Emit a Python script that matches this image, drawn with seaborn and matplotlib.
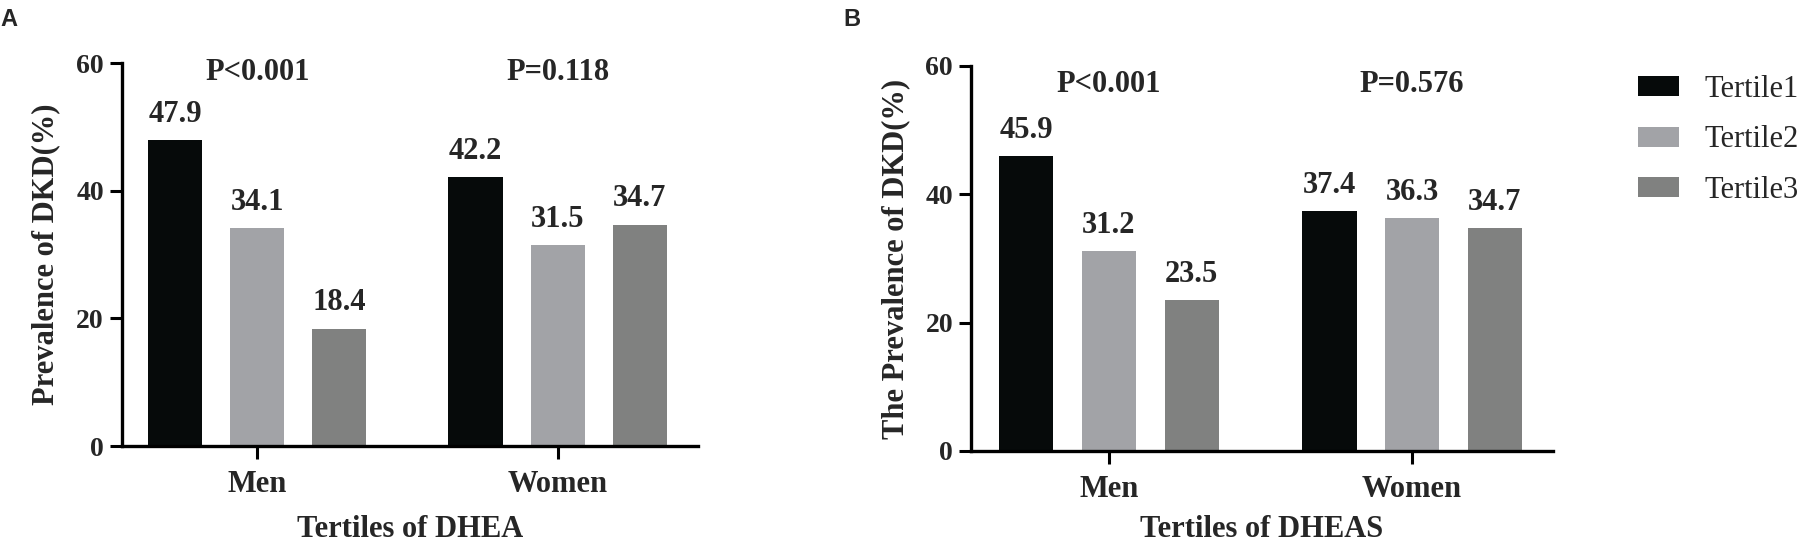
import numpy as np
import pandas as pd
import matplotlib
matplotlib.use("Agg")
import matplotlib.pyplot as plt
import seaborn as sns

# ---- data ----
sexes = ["Men", "Women"]
tertiles = ["Tertile1", "Tertile2", "Tertile3"]
dhea_men = [47.9, 34.1, 18.4]
dhea_women = [42.2, 31.5, 34.7]
dheas_men = [45.9, 31.2, 23.5]
dheas_women = [37.4, 36.3, 34.7]
p_dhea = ["P<0.001", "P=0.118"]
p_dheas = ["P<0.001", "P=0.576"]
yticks = [0, 20, 40, 60]
colors = ["#060a0a", "#a2a3a7", "#808180"]

sns.set_style("ticks")
plt.rcParams["font.family"] = ["Liberation Serif", "DejaVu Serif"]
plt.rcParams["font.weight"] = "bold"
plt.rcParams["axes.labelweight"] = "bold"

fig = plt.figure(figsize=(18.05, 5.44), dpi=100)
axA = fig.add_axes([0.0676, 0.1801, 0.3191, 0.7040])
axB = fig.add_axes([0.5380, 0.1710, 0.3224, 0.7077])


def panel(ax, men, women, pvals, p_y, xlabel, ylabel, xlim, ylab_x, xlab_y):
    df = pd.DataFrame({
        "Sex": np.repeat(sexes, len(tertiles)),
        "Tertile": tertiles * len(sexes),
        "Value": men + women,
    })
    sns.barplot(data=df, x="Sex", y="Value", hue="Tertile", order=sexes,
                hue_order=tertiles, palette=colors, saturation=1,
                width=0.82, gap=0.34, errorbar=None, linewidth=0,
                ax=ax)
    for c in ax.containers:
        ax.bar_label(c, fmt="%.1f", padding=8, fontsize=22, fontweight="bold")
    for i, p in enumerate(pvals):
        ax.text(i, p_y, p, ha="center", va="baseline", fontsize=22,
                fontweight="bold")
    ax.set_ylim(0, 60)
    ax.set_xlim(*xlim)
    ax.set_yticks(yticks)
    ax.set_xlabel(xlabel, fontsize=22, fontweight="bold")
    ax.xaxis.set_label_coords(0.5, xlab_y)
    ax.xaxis.label.set_verticalalignment("baseline")
    ax.set_ylabel(ylabel, fontsize=22, fontweight="bold")
    ax.yaxis.set_label_coords(ylab_x, 0.5)
    for s in ["top", "right"]:
        ax.spines[s].set_visible(False)
    for s in ["left", "bottom"]:
        ax.spines[s].set_linewidth(2.4)
        ax.spines[s].set_color("black")
    ax.tick_params(axis="both", direction="out", length=9, width=2.2,
                   color="black", labelsize=20)
    ax.tick_params(axis="y", pad=4)
    ax.tick_params(axis="x", pad=8, labelsize=22)
    for lab in ax.get_xticklabels() + ax.get_yticklabels():
        lab.set_fontweight("bold")
    h, l = ax.get_legend_handles_labels()
    if ax.get_legend() is not None:
        ax.get_legend().remove()
    return h, l


handles, labels = panel(axA, dhea_men, dhea_women, p_dhea, 57.3,
                        "Tertiles of DHEA", "Prevalence of DKD(%)",
                        (-0.45, 1.467), -0.108, -0.2376)
panel(axB, dheas_men, dheas_women, p_dheas, 55.9,
      "Tertiles of DHEAS", "The Prevalence of DKD(%)",
      (-0.455, 1.465), -0.105, -0.2234)

fig.legend(handles, labels, loc="upper left", bbox_to_anchor=(0.9075, 0.862),
           frameon=False, prop={"family": ["Liberation Serif"], "weight": "normal", "size": 22},
           handlelength=1.34, handleheight=0.62, handletextpad=0.85,
           labelspacing=0.7, borderpad=0, borderaxespad=0)

fig.text(0.0, 1 - 8 / 544, "A", fontsize=17, fontweight="bold", va="top", ha="left",
         family=["Liberation Sans", "DejaVu Sans"])
fig.text(843 / 1805, 1 - 8 / 544, "B", fontsize=17, fontweight="bold", va="top", ha="left",
         family=["Liberation Sans", "DejaVu Sans"])

fig.savefig("out.png", dpi=100)
